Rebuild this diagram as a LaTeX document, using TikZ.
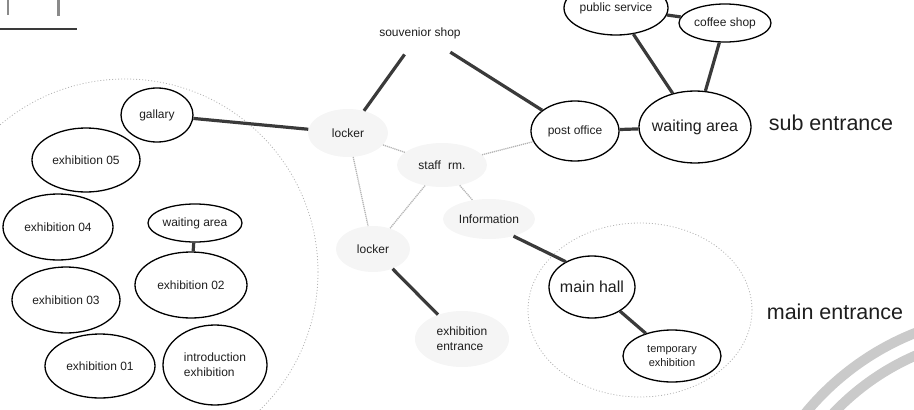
\documentclass[tikz,border=0pt]{standalone}
\usepackage{fontspec}
\setmainfont{Liberation Sans}
\usetikzlibrary{shapes.geometric}
\definecolor{ink}{HTML}{1E1E1E}
\definecolor{link}{HTML}{3A3A3A}
\definecolor{haze}{HTML}{F5F5F5}
\definecolor{faint}{HTML}{B4B4B4}
\definecolor{swoosh}{HTML}{CACACA}
\definecolor{tick}{HTML}{8A8A8A}
\begin{document}
\begin{tikzpicture}[x=1pt,y=-1pt,
  lbl/.style={font=\fontsize{12}{15}\selectfont, text=ink, align=center},
  room/.style 2 args={lbl, ellipse, draw=black, line width=1.3pt,
    inner ysep=0pt, inner xsep=-4pt, minimum width=#1pt, minimum height=#2pt},
  spot/.style 2 args={lbl, ellipse, inner sep=0pt, minimum width=#1pt, minimum height=#2pt},
  blob/.style 2 args={spot={#1}{#2}, fill=haze},
  big/.style={font=\fontsize{16}{18}\selectfont},
  title/.style={font=\fontsize{21.5}{24}\selectfont, text=ink},
  strong/.style={draw=link, line width=3.2pt},
  weak/.style={draw=faint, line width=1.3pt, dash pattern=on 1.2pt off 0.8pt},
  zone/.style={draw=faint, line width=0.8pt, dash pattern=on 1pt off 2pt}]

\useasboundingbox (0,0) rectangle (914,410);
\clip (0,0) rectangle (914,410);

% decorative arcs in the lower right corner
\draw[swoosh, line width=10pt] (1015,585) circle[radius=271pt];
\draw[swoosh, line width=10pt] (1015,585) circle[radius=250pt];

% zone outlines
\draw[zone] (125,272) circle[radius=193pt];
\draw[zone] (640,310) ellipse[x radius=112pt, y radius=87pt];

% marks in the upper left corner
\draw[tick, line width=2pt] (8,0) -- (8,15);
\draw[tick, line width=3pt] (58,0) -- (58,16);
\draw[link, line width=1.5pt] (0,29) -- (77,29);

% exhibition wing
\node[room={72}{54}] (gallary) at (157,115) {gallary};
\node[room={108}{64}] (ex5) at (86,160) {exhibition 05};
\node[room={110}{66}] (ex4) at (58,227) {exhibition 04};
\node[room={108}{66}] (ex3) at (66,300) {exhibition 03};
\node[room={110}{64}] (ex1) at (100,366) {exhibition 01};
\node[room={104}{80}, align=left] (intro) at (215,365) {introduction\\exhibition};
\node[room={94}{38}] (wait2) at (195,223) {waiting area};
\node[room={112}{66}] (ex2) at (191,285) {exhibition 02};

% central spaces
\node[spot={120}{44}] (souv) at (420,33) {souvenior shop};
\node[blob={80}{48}] (lockA) at (348,133) {locker};
\node[blob={90}{44}] (staff) at (442,165) {staff\hspace{4pt} rm.};
\node[blob={74}{46}] (lockB) at (373,249) {locker};
\node[blob={92}{40}] (info) at (489,219) {Information};
\node[blob={94}{56}, align=left] (entry) at (462,339) {exhibition\\entrance};

% sub entrance side
\node[room={104}{54}] (public) at (616,8) {public service};
\node[room={88}{60}] (post) at (575,131) {post office};
\node[room={112}{72}, big] (waitA) at (695,127) {waiting area};
\node[room={92}{38}] (coffee) at (725,23) {coffee shop};
\node[title] (sub) at (831,123) {sub entrance};

% main entrance side
\node[room={86}{62}, big] (hall) at (592,287) {main hall};
\node[room={98}{52}, font=\fontsize{11}{14}\selectfont] (temp) at (672,356) {temporary\\exhibition};
\node[title] (mainent) at (835,312) {main entrance};

% strong links
\draw[strong] (gallary) -- (lockA);
\draw[strong] (souv) -- (lockA);
\draw[strong] (souv) -- (post);
\draw[strong] (post) -- (waitA);
\draw[strong] (public) -- (waitA);
\draw[strong] (coffee) -- (waitA);
\draw[strong] (public) -- (coffee);
\draw[strong] (info.-35) -- (hall.136);
\draw[strong] (lockB) -- (entry);
\draw[strong] (hall) -- (temp);
\draw[strong] (wait2) -- (ex2);

% weak links
\draw[weak] (lockA) -- (lockB);
\draw[weak] (lockA) -- (staff);
\draw[weak] (staff) -- (post);
\draw[weak] (staff) -- (lockB);
\draw[weak] (staff) -- (info);
\end{tikzpicture}
\end{document}
